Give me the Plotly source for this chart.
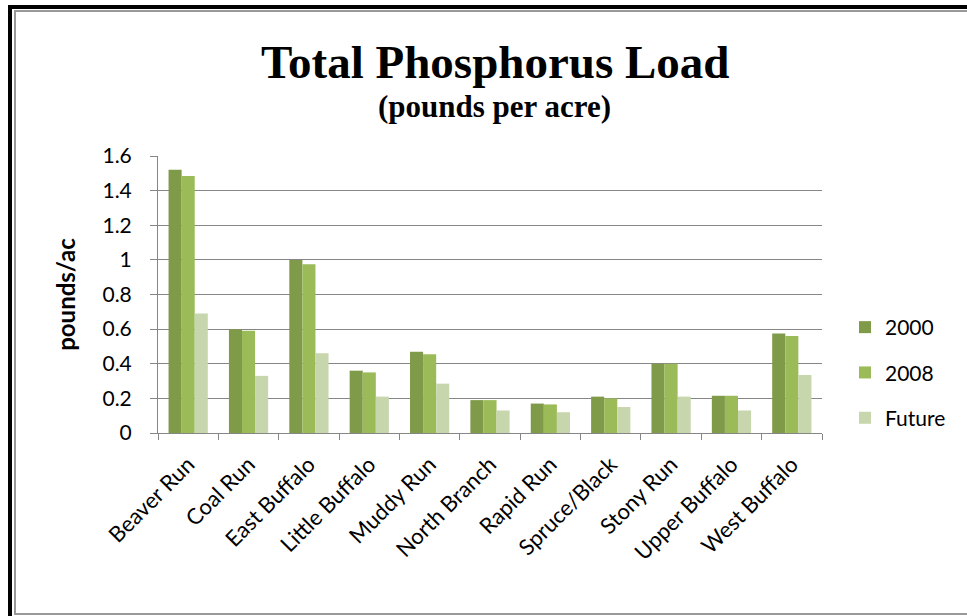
import plotly.graph_objects as go

categories = ["Beaver Run", "Coal Run", "East Buffalo", "Little Buffalo", "Muddy Run",
              "North Branch", "Rapid Run", "Spruce/Black", "Stony Run", "Upper Buffalo", "West Buffalo"]
values_2000 = [1.52, 0.60, 1.00, 0.36, 0.47, 0.19, 0.17, 0.21, 0.40, 0.215, 0.575]
values_2008 = [1.485, 0.59, 0.975, 0.35, 0.455, 0.19, 0.165, 0.20, 0.40, 0.215, 0.56]
values_future = [0.69, 0.33, 0.46, 0.21, 0.285, 0.13, 0.12, 0.15, 0.21, 0.13, 0.335]
series_names = ["2000", "2008", "Future"]
colors = ["#7f9a48", "#9bbb59", "#c7d6ad"]

W, H = 967, 616
L, R, T, B = 158, 822, 156, 433

fig = go.Figure()
for name, vals, col in zip(series_names, [values_2000, values_2008, values_future], colors):
    fig.add_trace(go.Bar(x=categories, y=vals, name=name, marker_color=col,
                         marker_line_width=0, legendgroup=name))

def px(x):
    return (x - L) / (R - L)

def py(y):
    return (B - y) / (B - T)

shapes = [
    dict(type="rect", xref="paper", yref="paper", x0=px(10), x1=px(1200), y0=py(7), y1=py(900),
         line=dict(color="black", width=4), fillcolor="rgba(0,0,0,0)", layer="above"),
    dict(type="rect", xref="paper", yref="paper", x0=px(15), x1=px(1200), y0=py(11), y1=py(614),
         line=dict(color="#999999", width=2), fillcolor="rgba(0,0,0,0)", layer="above"),
]

fig.update_layout(
    width=W, height=H,
    margin=dict(l=L, r=W - R, t=T, b=H - B),
    paper_bgcolor="white", plot_bgcolor="white",
    barmode="group", bargap=0.35, bargroupgap=0,
    font=dict(family="Lato, Open Sans, sans-serif", color="black", size=18),
    annotations=[
        dict(text="<b>Total Phosphorus Load</b>", x=px(495), y=py(62), xref="paper", yref="paper",
             showarrow=False, xanchor="center", yanchor="middle",
             font=dict(family="Liberation Serif, Times New Roman, serif", size=47, color="black")),
        dict(text="<b>(pounds per acre)</b>", x=px(494), y=py(107), xref="paper", yref="paper",
             showarrow=False, xanchor="center", yanchor="middle",
             font=dict(family="Liberation Serif, Times New Roman, serif", size=31, color="black")),
    ],
    shapes=shapes,
    legend=dict(x=px(845), y=py(307), xanchor="left", yanchor="top",
                font=dict(size=21), tracegroupgap=15, bgcolor="rgba(0,0,0,0)",
                itemwidth=30),
    xaxis=dict(type="category", tickangle=-45, showline=True, linecolor="#868686", linewidth=1,
               ticks="outside", tickson="boundaries", ticklen=6, tickcolor="#868686",
               tickfont=dict(size=22), showgrid=False, ticklabelstandoff=9),
    yaxis=dict(range=[0, 1.6], dtick=0.2, showline=True, linecolor="#868686", linewidth=1,
               ticks="outside", ticklen=7, tickcolor="#868686", gridcolor="#868686", gridwidth=1,
               tickfont=dict(size=21), zeroline=False, ticklabelstandoff=14,
               title=dict(text="<b>pounds/ac</b>", font=dict(size=24), standoff=20)),
)

fig.write_html("out.html", post_script="document.body.style.margin='0';",
               config={"displayModeBar": False})
